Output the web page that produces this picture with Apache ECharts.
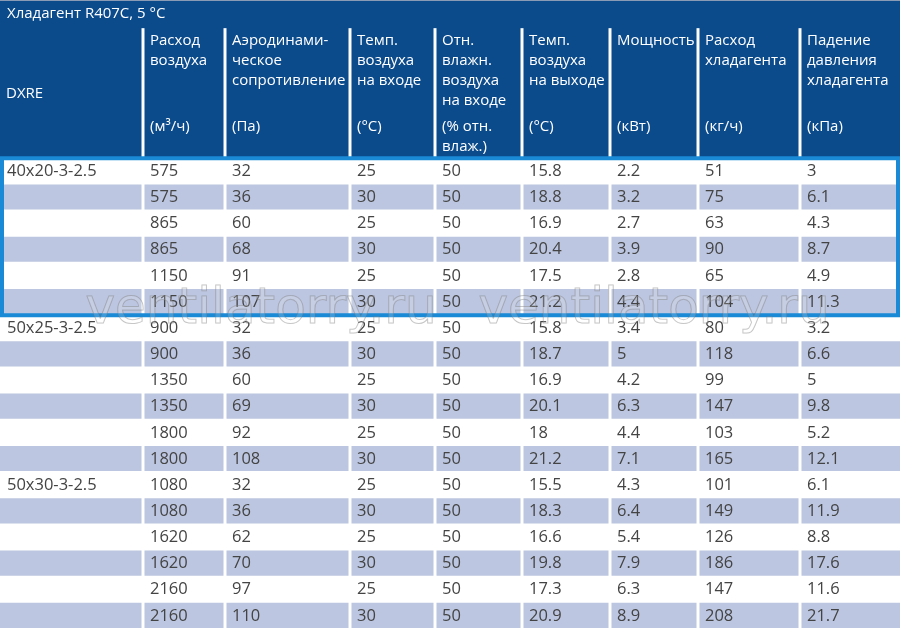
<!DOCTYPE html>
<html lang="ru">
<head>
    <meta charset="UTF-8">
    <title>DXRE R407C</title>
    <script src="https://cdn.jsdelivr.net/npm/echarts/dist/echarts.min.js"></script>
    <style>
        html, body { margin: 0; padding: 0; background: #fff; }
        #chart { width: 900px; height: 629px; }
    </style>
</head>
<body>
    <div id="chart"></div>
    <script>
        var title = 'Хладагент R407C, 5 °C';
        var headNames = ['DXRE', 'Расход\nвоздуха', 'Аэродинами-\nческое\nсопротивление', 'Темп.\nвоздуха\nна входе',
            'Отн.\nвлажн.\nвоздуха\nна входе', 'Темп.\nвоздуха\nна выходе', 'Мощность', 'Расход\nхладагента', 'Падение\nдавления\nхладагента'];
        var headUnits = ['', '(м³/ч)', '(Па)', '(°С)', '(% отн.\nвлаж.)', '(°С)', '(кВт)', '(кг/ч)', '(кПа)'];
        var models = ['40x20-3-2.5', '', '', '', '', '', '50x25-3-2.5', '', '', '', '', '', '50x30-3-2.5', '', '', '', '', ''];
        var airflow = ['575', '575', '865', '865', '1150', '1150', '900', '900', '1350', '1350', '1800', '1800', '1080', '1080', '1620', '1620', '2160', '2160'];
        var resistance = ['32', '36', '60', '68', '91', '107', '32', '36', '60', '69', '92', '108', '32', '36', '62', '70', '97', '110'];
        var tempIn = ['25', '30', '25', '30', '25', '30', '25', '30', '25', '30', '25', '30', '25', '30', '25', '30', '25', '30'];
        var humidity = ['50', '50', '50', '50', '50', '50', '50', '50', '50', '50', '50', '50', '50', '50', '50', '50', '50', '50'];
        var tempOut = ['15.8', '18.8', '16.9', '20.4', '17.5', '21.2', '15.8', '18.7', '16.9', '20.1', '18', '21.2', '15.5', '18.3', '16.6', '19.8', '17.3', '20.9'];
        var power = ['2.2', '3.2', '2.7', '3.9', '2.8', '4.4', '3.4', '5', '4.2', '6.3', '4.4', '7.1', '4.3', '6.4', '5.4', '7.9', '6.3', '8.9'];
        var refFlow = ['51', '75', '63', '90', '65', '104', '80', '118', '99', '147', '103', '165', '101', '149', '126', '186', '147', '208'];
        var pressure = ['3', '6.1', '4.3', '8.7', '4.9', '11.3', '3.2', '6.6', '5', '9.8', '5.2', '12.1', '6.1', '11.9', '8.8', '17.6', '11.6', '21.7'];

        var columns = [models, airflow, resistance, tempIn, humidity, tempOut, power, refFlow, pressure];
        // column borders in x-axis units (pixels of the 900 wide table)
        var colEdges = [0, 143, 225, 350, 435, 522, 610, 698, 800, 900];

        var cellData = [];
        columns.forEach(function (col, c) {
            col.forEach(function (v, r) { cellData.push([c, r, v]); });
        });
        var headData = headNames.map(function (n, c) { return [c, n, headUnits[c]]; });

        var font = '"Open Sans", "Noto Sans", sans-serif';
        var chart = echarts.init(document.getElementById('chart'));
        chart.setOption({
            animation: false,
            grid: { left: 0, right: 0, top: 0, bottom: 0 },
            xAxis: { type: 'value', min: 0, max: 900, show: false },
            yAxis: { type: 'value', min: -6.05, max: 18, inverse: true, show: false },
            graphic: [
                { type: 'text', left: 85, top: 285, z: 100, style: { text: 'ventilatorry.ru', font: '50px "DejaVu Sans"', fill: 'rgba(255,255,255,0.15)', stroke: 'rgba(120,120,120,0.45)', lineWidth: 1 } },
                { type: 'text', left: 478, top: 285, z: 100, style: { text: 'ventilatorry.ru', font: '50px "DejaVu Sans"', fill: 'rgba(255,255,255,0.15)', stroke: 'rgba(120,120,120,0.45)', lineWidth: 1 } }
            ],
            series: [
                {
                    // title bar + header background
                    type: 'custom',
                    data: [[0]],
                    renderItem: function (params, api) {
                        var p0 = api.coord([0, -6.05]), p1 = api.coord([900, 0]), pt = api.coord([0, -5.05]);
                        return {
                            type: 'group', children: [
                                { type: 'rect', shape: { x: p0[0], y: p0[1], width: p1[0] - p0[0], height: p1[1] - p0[1] }, style: { fill: '#0b4a8b' } },
                                { type: 'rect', shape: { x: p0[0], y: p0[1], width: p1[0] - p0[0], height: 1 }, style: { fill: '#8a9bb5' } },
                                { type: 'text', style: { x: 7, y: (p0[1] + pt[1]) / 2 + 1, text: title, verticalAlign: 'middle', fill: '#fff', font: '15px ' + font } }
                            ]
                        };
                    }
                },
                {
                    type: 'custom',
                    data: headData,
                    renderItem: function (params, api) {
                        var c = api.value(0);
                        var a = api.coord([colEdges[c], -5.05]), b = api.coord([colEdges[c + 1], 0]);
                        var ch = [];
                        if (c > 0) ch.push({ type: 'rect', shape: { x: a[0] - 1.5, y: a[1] + 2, width: 3, height: b[1] - a[1] - 2 }, style: { fill: '#fff' } });
                        var name = headNames[c], unit = headUnits[c];
                        if (c === 0) {
                            ch.push({ type: 'text', style: { x: a[0] + 6, y: (a[1] + b[1]) / 2 + 2, text: name, verticalAlign: 'middle', fill: '#fff', font: '15px ' + font } });
                        } else {
                            ch.push({ type: 'text', style: { x: a[0] + 7, y: a[1] + 5, text: name, lineHeight: 20, verticalAlign: 'top', fill: '#fff', font: '15px ' + font } });
                            ch.push({ type: 'text', style: { x: a[0] + 7, y: a[1] + 91, text: unit, lineHeight: 20, verticalAlign: 'top', fill: '#fff', font: '15px ' + font } });
                        }
                        return { type: 'group', children: ch };
                    }
                },
                {
                    type: 'custom',
                    data: cellData,
                    renderItem: function (params, api) {
                        var c = api.value(0), r = api.value(1);
                        var a = api.coord([colEdges[c], r]), b = api.coord([colEdges[c + 1], r + 1]);
                        var shaded = r % 2 === 1;
                        return {
                            type: 'group', children: [
                                { type: 'rect', shape: { x: a[0] + (c > 0 ? 1.5 : 0), y: a[1], width: b[0] - a[0] - (c > 0 ? 1.5 : 0) - (c < 8 ? 1.5 : 0), height: b[1] - a[1] - 1 }, style: { fill: shaded ? '#bcc6e0' : '#ffffff' } },
                                { type: 'text', style: { x: a[0] + 7, y: (a[1] + b[1]) / 2, text: cellData[params.dataIndex][2], verticalAlign: 'middle', fill: '#444', font: '16.5px ' + font } }
                            ]
                        };
                    }
                },
                {
                    // highlight frame around first model
                    type: 'custom',
                    data: [[0]],
                    z: 5,
                    renderItem: function (params, api) {
                        var a = api.coord([0, 0]), b = api.coord([900, 6]);
                        return { type: 'rect', shape: { x: a[0] + 2, y: a[1], width: b[0] - a[0] - 4, height: b[1] - a[1] }, style: { fill: 'none', stroke: '#1a8ad6', lineWidth: 4 } };
                    }
                }
            ]
        });
    </script>
</body>
</html>
